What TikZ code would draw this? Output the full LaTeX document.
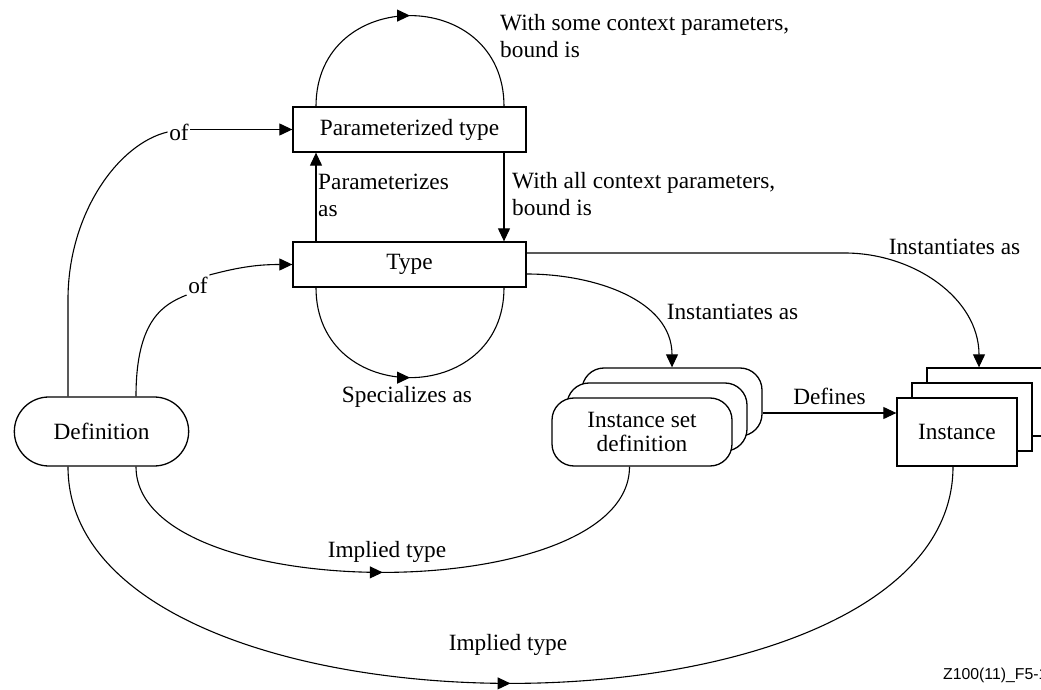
\documentclass[tikz,border=0pt]{standalone}
\usepackage{fontspec}
\setmainfont{Liberation Serif}
\newfontfamily\labelfont{Liberation Sans}
\usetikzlibrary{arrows.meta,shapes.misc,decorations.markings}

\tikzset{
  box/.style={draw, line width=1.3pt, fill=white, minimum height=45pt, inner sep=0pt},
  stackbox/.style={draw, line width=1.3pt, fill=white, rounded corners=22pt, minimum width=180pt, minimum height=68pt, inner sep=0pt},
  arr/.style={line width=1.1pt, -{Triangle[length=13pt,width=12pt]}},
  line/.style={line width=1.1pt},
  midarr/.style={line width=1.1pt, postaction={decorate},
    decoration={markings, mark=at position 0.5 with {\arrow{Triangle[length=13pt,width=12pt]}}}},
}

\begin{document}
\begin{tikzpicture}[x=1pt, y=1pt, font=\fontsize{23.3}{27}\selectfont]
    \useasboundingbox (0,0) rectangle (1041,689);
    \clip (0,0) rectangle (1041,689);

    \node [box, minimum width=233pt] (ptype) at (409.5,559.5) {Parameterized type};
    \node [box, minimum width=233pt] (type) at (409.5,424.5) {Type};
    \node [draw, line width=1.3pt, rounded rectangle, minimum width=181pt, minimum height=69pt] (def) at (101.5,257.5) {Definition};

    \node [stackbox] (isdB) at (672,287) {};
    \node [stackbox] (isdM) at (657,272) {};
    \node [stackbox, align=center, font=\fontsize{23.3}{24}\selectfont] (isd) at (642,257) {Instance set\\definition};

    \node [box, minimum width=120pt, minimum height=68pt] (instB) at (987,287) {};
    \node [box, minimum width=120pt, minimum height=68pt] (instM) at (972,272) {};
    \node [box, minimum width=120pt, minimum height=68pt] (inst) at (957,257) {Instance};

    \node [inner sep=1.5pt] (ofP) at (179,557) {of};
    \node [inner sep=1.5pt] (ofT) at (198,404) {of};

    \draw [midarr] ([xshift=-93.5pt]ptype.north) .. controls +(0,121) and +(0,121) .. ([xshift=94.5pt]ptype.north);
    \node [anchor=north west, align=left, inner sep=0pt] (bindsome) at (500,674.5) {With some context parameters,\\bound is};

    \draw [arr] ([xshift=-93.5pt]type.north) -- ([xshift=-93.5pt]ptype.south);
    \node [anchor=north west, align=left, inner sep=0pt] (paramas) at (318,515.5) {Parameterizes\\as};
    \draw [arr] ([xshift=94.5pt]ptype.south) -- ([xshift=94.5pt]type.north);
    \node [anchor=north west, align=left, inner sep=0pt] (bindall) at (512,516.5) {With all context parameters,\\bound is};

    \draw [midarr] ([xshift=-93.5pt]type.south) .. controls +(0,-120) and +(0,-120) .. ([xshift=94.5pt]type.south);
    \node (special) at (407,292) {Specializes as};

    \draw [line] ([xshift=-33.5pt]def.north) -- ++(0,97) .. controls +(0,85) and +(-50,-12) .. (ofP.west);
    \draw [arr] (ofP.east |- ptype.west) -- (ptype.west);
    \draw [line] ([xshift=34.5pt]def.north) .. controls +(0,78) and +(-22,-9) .. (ofT.south west);
    \draw [arr] (ofT.north east) to [out=15, in=180] (type.west);

    \draw [arr] ([yshift=-9.5pt]type.east) to [out=0, in=90] (isdB.north);
    \node (instisd) at (732.5,377) {Instantiates as};
    \draw [arr] ([yshift=11.5pt]type.east) -- ++(318,0) to [out=0, in=90] ([xshift=-8pt]instB.north);
    \node (instinst) at (954.5,442) {Instantiates as};

    \draw [arr] ([yshift=-11pt]isdB.east) coordinate (d0) -- (d0 -| inst.west) node [midway, above=4pt] {Defines};

    \draw [midarr] ([xshift=34.5pt]def.south) .. controls +(0,-141) and +(0,-141) .. ([xshift=-12.5pt]isd.south);
    \node (implA) at (387,137) {Implied type};
    \draw [midarr] ([xshift=-33.5pt]def.south) .. controls +(0,-289) and +(0,-289) .. ([xshift=-4pt]inst.south);
    \node (implB) at (508,44) {Implied type};

    \node [anchor=west, inner sep=0pt, font=\labelfont\fontsize{15.8}{18}\selectfont] (figid) at (943,14) {Z100(11)\_F5-1};
\end{tikzpicture}
\end{document}
